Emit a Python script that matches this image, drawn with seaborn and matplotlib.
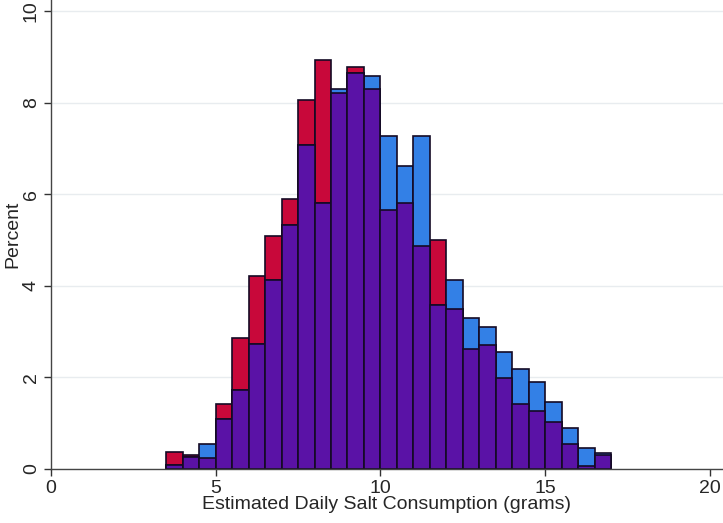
import numpy as np
import pandas as pd
import matplotlib
matplotlib.use("Agg")
import matplotlib.pyplot as plt
import seaborn as sns

# Bin edges (width 0.5, from 3.5 to 17)
bin_left = [3.5, 4.0, 4.5, 5.0, 5.5, 6.0, 6.5, 7.0, 7.5, 8.0, 8.5, 9.0, 9.5,
            10.0, 10.5, 11.0, 11.5, 12.0, 12.5, 13.0, 13.5, 14.0, 14.5, 15.0,
            15.5, 16.0, 16.5]
# Percent per bin, red series
red_pct = [0.38, 0.31, 0.23, 1.43, 2.86, 4.21, 5.09, 5.90, 8.06, 8.93, 8.21,
           8.78, 8.30, 5.66, 5.81, 4.87, 5.01, 3.50, 2.62, 2.71, 1.98, 1.42,
           1.27, 1.02, 0.54, 0.07, 0.31]
# Percent per bin, blue series
blue_pct = [0.09, 0.26, 0.55, 1.09, 1.72, 2.74, 4.13, 5.33, 7.07, 5.80, 8.29,
            8.65, 8.57, 7.27, 6.62, 7.27, 3.57, 4.13, 3.30, 3.11, 2.56, 2.18,
            1.91, 1.46, 0.90, 0.45, 0.36]

xlabel = "Estimated Daily Salt Consumption (grams)"
ylabel = "Percent"

RED = "#C8083A"
BLUE = "#3380E6"
PURPLE = "#5A12A6"
EDGE = "#140a25"

sns.set_style("white")
plt.rcParams['font.family'] = ['Liberation Sans', 'DejaVu Sans']

width = 0.5
edges = list(bin_left) + [bin_left[-1] + width]
centers = [b + width / 2 for b in bin_left]
overlap = [min(r, b) for r, b in zip(red_pct, blue_pct)]

df = pd.DataFrame({"x": centers, "red": red_pct, "blue": blue_pct, "both": overlap})

fig = plt.figure(figsize=(7.23, 5.23), dpi=100)
ax = fig.add_axes([51 / 723, 54 / 523, 1 - 51 / 723, 1 - 54 / 523])

for ycol, col in [("red", RED), ("blue", BLUE), ("both", PURPLE)]:
    sns.histplot(data=df, x="x", weights=ycol, bins=edges, stat="count",
                 color=col, alpha=1.0, edgecolor=EDGE, linewidth=1.2, ax=ax)

ax.set_xlim(0, 20.4)
ax.set_ylim(0, 10.24)
ax.set_xticks([0, 5, 10, 15, 20])
ax.set_yticks([0, 2, 4, 6, 8, 10])
ax.set_yticklabels(["0", "2", "4", "6", "8", "10"], rotation=90, va="center")
ax.yaxis.grid(True, color="#e8ecef", linewidth=1.0)
ax.set_axisbelow(True)
ax.tick_params(axis="both", direction="out", length=5, width=1, color="#333333",
               labelsize=14, left=True, bottom=True, pad=3)
for s in ["top", "right"]:
    ax.spines[s].set_visible(False)
for s in ["left", "bottom"]:
    ax.spines[s].set_color("#444444")
    ax.spines[s].set_linewidth(1.0)
ax.set_xlabel(xlabel, fontsize=14, labelpad=-1)
ax.set_ylabel(ylabel, fontsize=14, labelpad=1)

fig.savefig("out.png", dpi=100)
